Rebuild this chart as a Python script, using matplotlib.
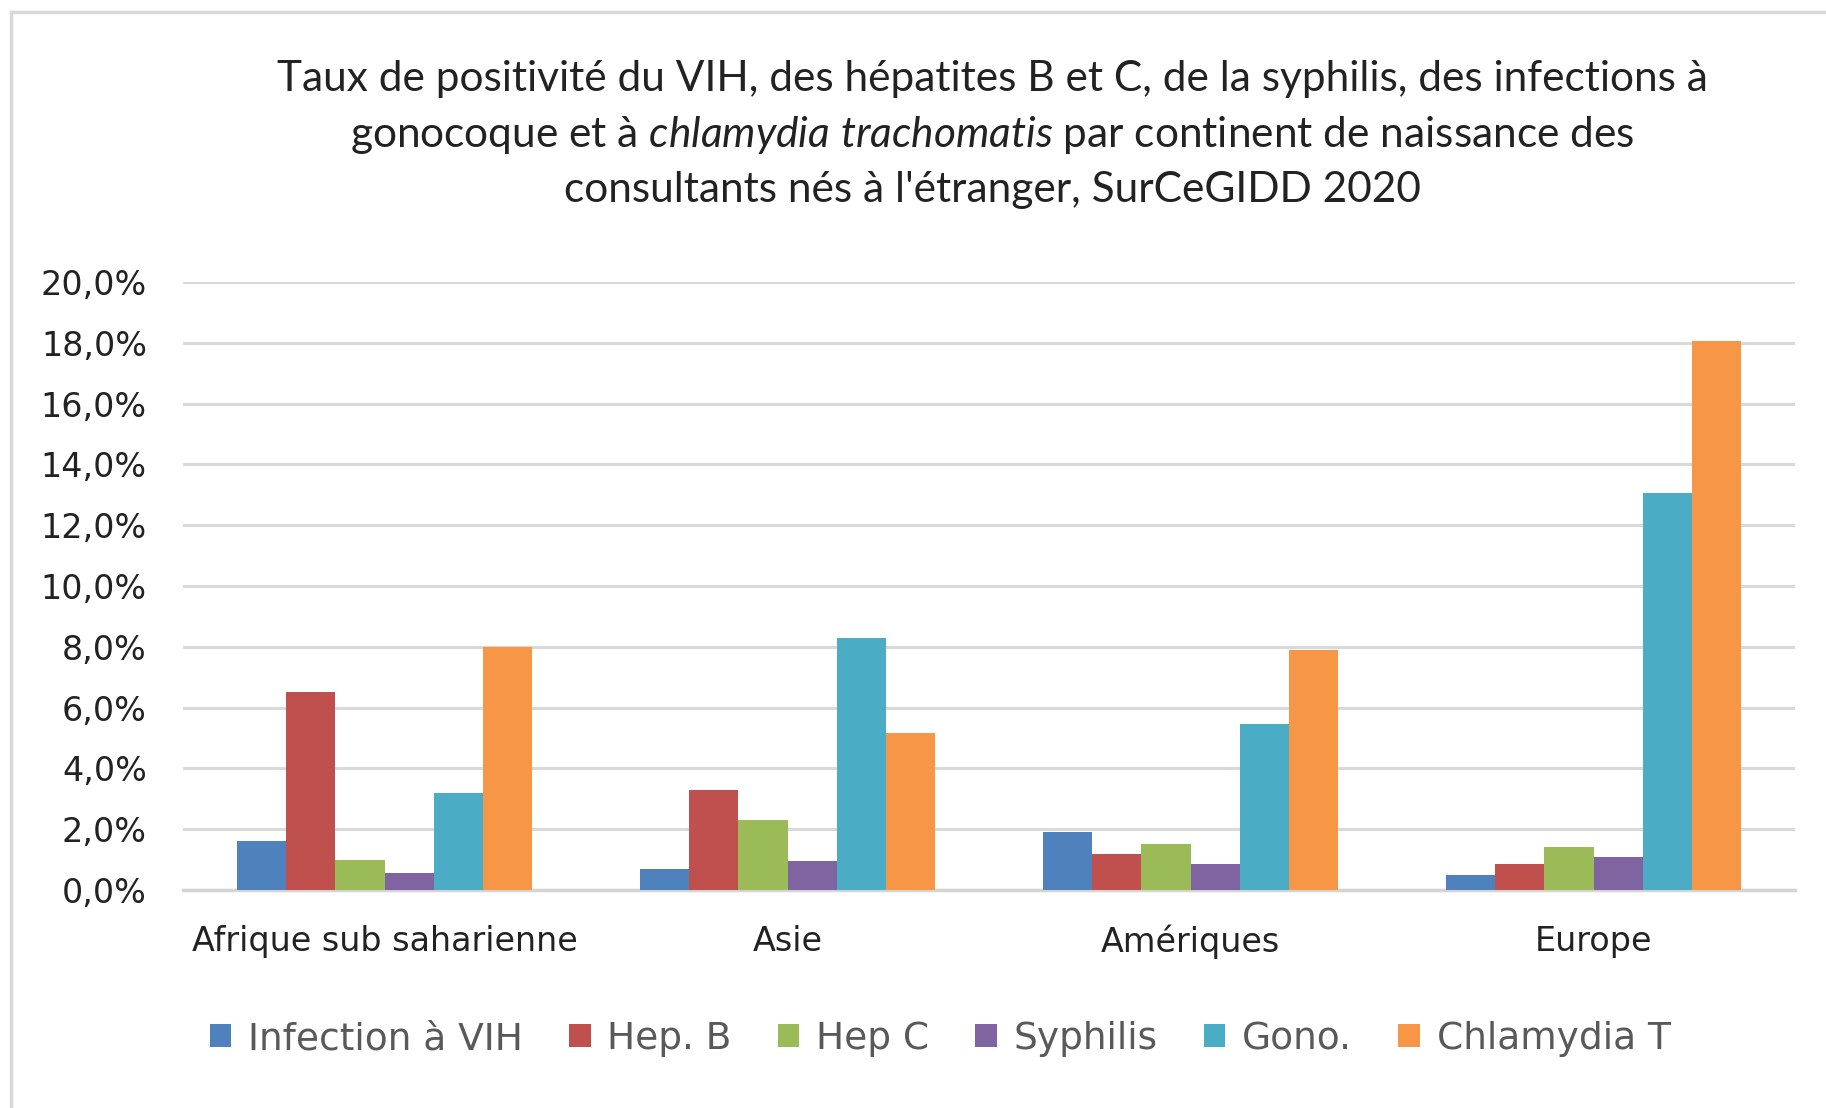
import numpy as np
import matplotlib.pyplot as plt
from matplotlib.patches import Patch
from matplotlib.lines import Line2D
from matplotlib.ticker import FuncFormatter

# ---- données ----
continents = ["Afrique sub saharienne", "Asie", "Amériques", "Europe"]
series = ["Infection à VIH", "Hep. B", "Hep C", "Syphilis", "Gono.", "Chlamydia T"]
vih = [1.6, 0.7, 1.9, 0.5]
hep_b = [6.5, 3.3, 1.2, 0.85]
hep_c = [1.0, 2.3, 1.5, 1.4]
syphilis = [0.55, 0.95, 0.85, 1.1]
gono = [3.2, 8.3, 5.45, 13.05]
chlamydia = [8.0, 5.15, 7.9, 18.05]
values = [vih, hep_b, hep_c, syphilis, gono, chlamydia]
colors = ["#4F81BD", "#C0504D", "#9BBB59", "#8064A2", "#4BACC6", "#F79646"]
y_ticks = np.arange(0, 21, 2)

plt.rcParams["mathtext.fontset"] = "custom"
plt.rcParams["mathtext.rm"] = "Lato"
plt.rcParams["mathtext.it"] = "Lato:italic"

fig = plt.figure(figsize=(18.26, 11.08), dpi=100)
ax = fig.add_axes([183 / 1826, 1 - 890 / 1108, (1795 - 183) / 1826, (890 - 282) / 1108])

x = np.arange(len(continents))
w = 0.122
for i, (vals, c) in enumerate(zip(values, colors)):
    ax.bar(x + (i - 2.5) * w, vals, width=w, color=c, zorder=3)

ax.set_xlim(-0.5, 3.5)
ax.set_ylim(0, 20)
ax.set_yticks(y_ticks)
ax.yaxis.set_major_formatter(FuncFormatter(lambda v, p: f"{v:.1f}%".replace(".", ",")))
ax.set_xticks(x)
ax.set_xticklabels(continents)
ax.tick_params(axis="y", length=0, pad=26, labelsize=24, labelcolor="#222222")
ax.tick_params(axis="x", length=0, pad=25, labelsize=24, labelcolor="#222222")
ax.grid(axis="y", color="#D9D9D9", linewidth=2.2, zorder=0)
for s in ["top", "right", "left"]:
    ax.spines[s].set_visible(False)
ax.spines["bottom"].set_color("#D4D4D4")
ax.spines["bottom"].set_linewidth(2.5)

# titre (3 lignes, la 2e avec italique)
title_kw = dict(ha="center", va="center", fontsize=30.5, family="Lato", color="#222222")
fig.text(992 / 1826, 1 - 79 / 1108,
         "Taux de positivité du VIH, des hépatites B et C, de la syphilis, des infections à", **title_kw)
fig.text(992 / 1826, 1 - 135 / 1108,
         r"gonocoque et à $\mathit{chlamydia\ trachomatis}$ par continent de naissance des", **title_kw)
fig.text(992 / 1826, 1 - 190 / 1108,
         "consultants nés à l'étranger, SurCeGIDD 2020", **title_kw)

# légende
handles = [Patch(facecolor=c, edgecolor="none") for c in colors]
fig.legend(handles, series, loc="center", bbox_to_anchor=(940 / 1826, 1 - 1039 / 1108),
           ncol=6, frameon=False, fontsize=27, labelcolor="#595959",
           handlelength=0.58, handleheight=0.58, handletextpad=0.45, columnspacing=1.22)

# cadre du graphique
fig.add_artist(Line2D([11 / 1826, 11 / 1826], [0, 1 - 12 / 1108], color="#D9D9D9", lw=2.5,
                      transform=fig.transFigure))
fig.add_artist(Line2D([11 / 1826, 1], [1 - 12 / 1108, 1 - 12 / 1108], color="#D9D9D9", lw=2.5,
                      transform=fig.transFigure))

fig.savefig("out.png", dpi=100, facecolor="white")
